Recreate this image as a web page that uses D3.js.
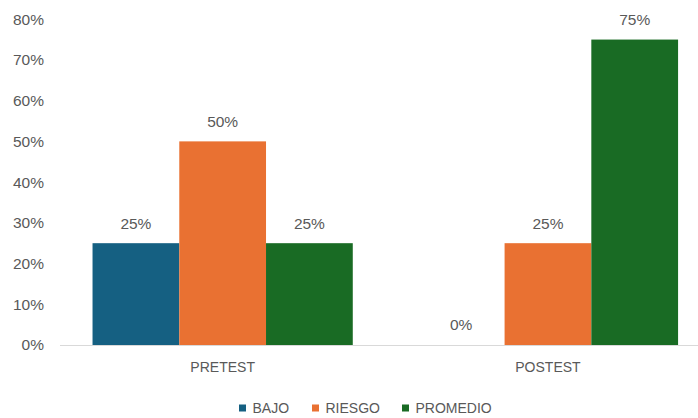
<!DOCTYPE html>
<html><head><meta charset="utf-8">
<script src="https://cdn.jsdelivr.net/npm/d3@7"></script>
<style>body{margin:0;background:#fff}svg{display:block}text{font-family:"Liberation Sans",Arial,sans-serif;fill:#595959}</style>
</head><body><svg id="c" width="698" height="418"></svg>
<script>
const categories = ["PRETEST", "POSTEST"];
const seriesNames = ["BAJO", "RIESGO", "PROMEDIO"];
const bajo = [0.25, 0.00];
const riesgo = [0.50, 0.25];
const promedio = [0.25, 0.75];
const yTicks = [0, 0.1, 0.2, 0.3, 0.4, 0.5, 0.6, 0.7, 0.8];
const colors = ["#156082", "#E97132", "#196B24"];

const seriesValues = [bajo, riesgo, promedio];
const svg = d3.select("#c");
const x0 = d3.scaleBand().domain(categories).range([60, 710.6]).paddingInner(0.2).paddingOuter(0.1);
const x1 = d3.scaleBand().domain(seriesNames).range([0, x0.bandwidth()]);
const y = d3.scaleLinear().domain([0, 0.8]).range([345, 19.2]);
const fmt = d3.format(".0%");

// y axis labels
const yAxis = d3.axisLeft(y).tickValues(yTicks).tickFormat(fmt).tickSize(0).tickPadding(0);
const ya = svg.append("g").attr("transform", "translate(44,0)").call(yAxis);
ya.select(".domain").remove();
ya.selectAll("text").style("font-size", "15.5px").attr("fill", "#595959").style("font-family", '"Liberation Sans",Arial,sans-serif');

// bars
categories.forEach((c, ci) => {
  seriesNames.forEach((s, si) => {
    const v = seriesValues[si][ci];
    const bx = x0(c) + x1(s);
    svg.append("rect").attr("x", bx).attr("y", y(v)).attr("width", x1.bandwidth()).attr("height", y(0) - y(v)).attr("fill", colors[si]);
    svg.append("text").attr("x", bx + x1.bandwidth() / 2).attr("y", y(v) - 20).attr("dy", "0.35em")
      .attr("text-anchor", "middle").style("font-size", "15.5px").text(fmt(v));
  });
});

// x axis
const xAxis = d3.axisBottom(x0).tickSize(0).tickPadding(0);
const xa = svg.append("g").attr("transform", "translate(0,345)").call(xAxis);
xa.select(".domain").remove();
xa.selectAll("text").attr("y", 22).attr("dy", "0.35em").style("font-size", "14px").attr("fill", "#595959").style("font-family", '"Liberation Sans",Arial,sans-serif');
svg.append("line").attr("x1", 60).attr("x2", 698).attr("y1", 345.5).attr("y2", 345.5).attr("stroke", "#d9d9d9").attr("stroke-width", 1);

// legend
const legendX = [239, 312, 402];
seriesNames.forEach((s, i) => {
  svg.append("rect").attr("x", legendX[i]).attr("y", 404.5).attr("width", 7).attr("height", 7).attr("fill", colors[i]);
  svg.append("text").attr("x", legendX[i] + 13.5).attr("y", 408).attr("dy", "0.35em").style("font-size", "14px").text(s);
});
</script></body></html>
